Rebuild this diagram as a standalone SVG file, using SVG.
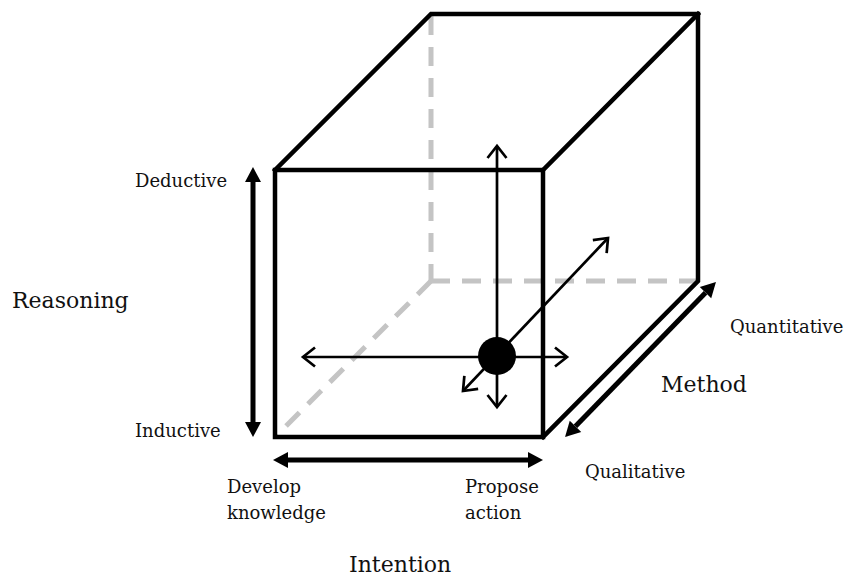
<svg xmlns="http://www.w3.org/2000/svg" width="849" height="576" viewBox="0 0 849 576">
  <defs>
    <style>
      .edge { stroke: #000; stroke-width: 4.5; fill: none; stroke-linejoin: miter; stroke-linecap: square; }
      .hidden { stroke: #c4c4c4; stroke-width: 5; fill: none; stroke-dasharray: 19 12; }
      .axis { stroke: #000; stroke-width: 5; fill: none; }
      .dir { stroke: #000; stroke-width: 2.7; fill: none; }
      .lbl { font-family: "DejaVu Serif", "Liberation Serif", serif; fill: #111; }
      .small { font-size: 18px; }
      .big { font-size: 22px; }
    </style>
    <!-- solid head for the thick axis arrows; tip extends beyond the line end -->
    <marker id="solidHead" markerUnits="userSpaceOnUse" viewBox="-1 -9 17 18" refX="0" refY="0" markerWidth="17" markerHeight="18" orient="auto-start-reverse">
      <path d="M0 -8 L15 0 L0 8 Z" fill="#000"/>
    </marker>
    <!-- open chevron head for the thin direction arrows -->
    <marker id="openHead" markerUnits="userSpaceOnUse" viewBox="-15 -12 18 24" refX="0" refY="0" markerWidth="18" markerHeight="24" orient="auto-start-reverse">
      <path d="M-12 -9.5 L0 0 L-12 9.5" fill="none" stroke="#000" stroke-width="2.7"/>
    </marker>
  </defs>

  <rect width="849" height="576" fill="#fff"/>

  <!-- hidden back edges of the cube -->
  <g id="hidden-edges">
    <line class="hidden" x1="431" y1="16" x2="431" y2="281"/>
    <line class="hidden" x1="431" y1="281" x2="696" y2="281"/>
    <line class="hidden" x1="431" y1="281" x2="277" y2="435"/>
  </g>

  <!-- visible edges of the cube -->
  <g id="cube">
    <rect class="edge" x="275" y="170" width="268" height="267"/>
    <polyline class="edge" points="275,170 431,14 698,14 698,281 543,437"/>
    <line class="edge" x1="543" y1="170" x2="698" y2="14"/>
  </g>

  <!-- axes and direction arrows -->
  <g id="connectors">
    <line class="axis" x1="253" y1="182" x2="253" y2="422" stroke-width="4.5" marker-start="url(#solidHead)" marker-end="url(#solidHead)"/>
    <line class="axis" x1="288" y1="460" x2="528" y2="460" marker-start="url(#solidHead)" marker-end="url(#solidHead)"/>
    <line class="axis" x1="705.5" y1="292.7" x2="575.5" y2="426.3" marker-start="url(#solidHead)" marker-end="url(#solidHead)"/>

    <line class="dir" x1="497" y1="407" x2="497" y2="146" marker-start="url(#openHead)" marker-end="url(#openHead)"/>
    <line class="dir" x1="303" y1="357" x2="567" y2="357" marker-start="url(#openHead)" marker-end="url(#openHead)"/>
    <line class="dir" x1="463" y1="391" x2="608" y2="238" marker-start="url(#openHead)" marker-end="url(#openHead)"/>
  </g>

  <!-- position marker -->
  <g id="position">
    <circle cx="497" cy="356" r="19" fill="#000"/>
  </g>

  <!-- reasoning axis -->
  <g id="reasoning">
    <text class="lbl big" x="12" y="308">Reasoning</text>
    <text class="lbl small" x="135" y="187">Deductive</text>
    <text class="lbl small" x="135" y="437">Inductive</text>
  </g>

  <!-- intention axis -->
  <g id="intention">
    <text class="lbl small" x="227" y="493">Develop</text>
    <text class="lbl small" x="227" y="519">knowledge</text>
    <text class="lbl small" x="465" y="493">Propose</text>
    <text class="lbl small" x="465" y="519">action</text>
    <text class="lbl big" x="349" y="572">Intention</text>
  </g>

  <!-- method axis -->
  <g id="method">
    <text class="lbl small" x="730" y="333">Quantitative</text>
    <text class="lbl big" x="661" y="392">Method</text>
    <text class="lbl small" x="585" y="478">Qualitative</text>
  </g>
</svg>
